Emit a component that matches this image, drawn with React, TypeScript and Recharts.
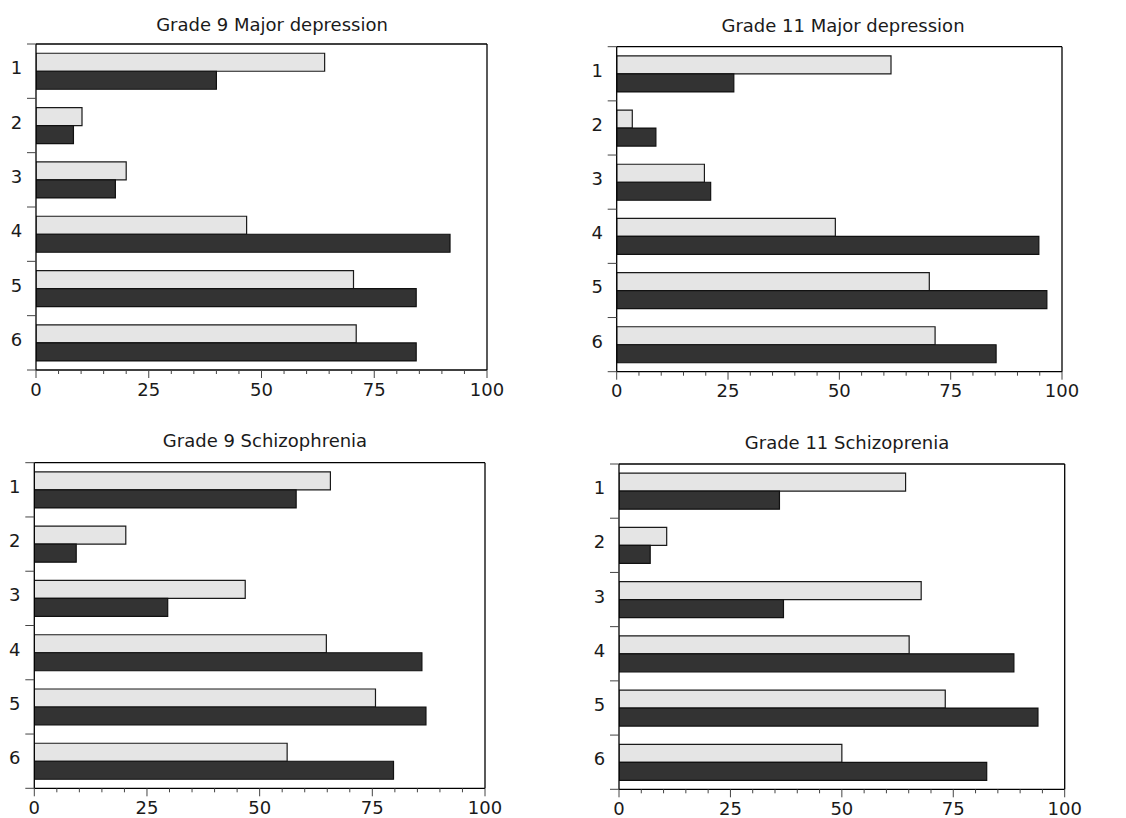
import React from 'react';
import { BarChart, Bar, XAxis, YAxis } from 'recharts';

const categories = ['1', '2', '3', '4', '5', '6'];
const xTicks = [0, 5, 10, 15, 20, 25, 30, 35, 40, 45, 50, 55, 60, 65, 70, 75, 80, 85, 90, 95, 100];
const xLabelTicks = [0, 25, 50, 75, 100];

const titles = [
  'Grade 9 Major depression',
  'Grade 11 Major depression',
  'Grade 9 Schizophrenia',
  'Grade 11 Schizoprenia',
];

const g9DepLight = [64, 10.2, 20, 46.7, 70.4, 71];
const g9DepDark = [40, 8.3, 17.6, 91.8, 84.3, 84.3];
const g11DepLight = [61.6, 3.5, 19.7, 49.1, 70.2, 71.5];
const g11DepDark = [26.3, 8.8, 21.1, 94.8, 96.6, 85.2];
const g9SchLight = [65.7, 20.3, 46.8, 64.8, 75.7, 56.1];
const g9SchDark = [58.1, 9.3, 29.6, 86.0, 86.9, 79.7];
const g11SchLight = [64.3, 10.7, 67.8, 65.1, 73.2, 50.0];
const g11SchDark = [36.0, 7.0, 36.9, 88.6, 94.0, 82.5];

const FONT = 'DejaVu Sans';
const W = 563;
const H = 408;
const Y_AXIS_W = 30;
const X_AXIS_H = 28;

type Box = { x0: number; y0: number; pl: number; pt: number; pr: number; pb: number; tx: number; ty: number };

const boxes: Box[] = [
  { x0: 0, y0: 0, pl: 36, pt: 44, pr: 487, pb: 370, tx: 272, ty: 30.7 },
  { x0: 563, y0: 0, pl: 616.7, pt: 46.7, pr: 1062, pb: 371.7, tx: 843, ty: 32.3 },
  { x0: 0, y0: 410, pl: 34.3, pt: 462.7, pr: 485, pb: 788.3, tx: 265, ty: 447.3 },
  { x0: 563, y0: 410, pl: 619, pt: 464, pr: 1064.7, pb: 789.3, tx: 847, ty: 449.3 },
];

const XTick = (props: any) => {
  const { x, y, payload } = props;
  const v = payload.value;
  const major = xLabelTicks.includes(v);
  return (
    <g>
      <line x1={x} y1={y} x2={x} y2={y + (major ? 8 : 4)} stroke="#444" strokeWidth={1} />
      {major && (
        <text x={x} y={y + 25.5} textAnchor="middle" fontFamily={FONT} fontSize={18} fill="#1a1a1a">
          {v}
        </text>
      )}
    </g>
  );
};

const YTick = (props: any) => {
  const { x, y, payload, band } = props;
  const half = payload && payload.offset ? payload.offset : band / 2;
  const isLast = payload.value === categories[categories.length - 1];
  return (
    <g>
      <line x1={x - 9} y1={y - half} x2={x} y2={y - half} stroke="#444" strokeWidth={1} />
      {isLast && <line x1={x - 9} y1={y + half} x2={x} y2={y + half} stroke="#444" strokeWidth={1} />}
      <text x={x - 19.5} y={y + 3} textAnchor="middle" fontFamily={FONT} fontSize={18} fill="#1a1a1a">
        {payload.value}
      </text>
    </g>
  );
};

function Panel({ title, light, dark, box }: { title: string; light: number[]; dark: number[]; box: Box }) {
  const data = categories.map((c, i) => ({ cat: c, light: light[i], dark: dark[i] }));
  const margin = {
    left: box.pl - box.x0 - Y_AXIS_W,
    top: box.pt - box.y0,
    right: box.x0 + W - box.pr,
    bottom: box.y0 + H - box.pb - X_AXIS_H,
  };
  const band = (box.pb - box.pt) / categories.length;
  return (
    <div style={{ position: 'absolute', left: box.x0, top: box.y0, width: W, height: H }}>
      <BarChart
        width={W}
        height={H}
        data={data}
        layout="vertical"
        margin={margin}
        barCategoryGap="17%"
        barGap={0}
      >
        <XAxis
          type="number"
          domain={[0, 100]}
          ticks={xTicks}
          interval={0}
          tickSize={0}
          tickMargin={0}
          tickLine={false}
          tick={(p: any) => <XTick {...p} />}
          height={X_AXIS_H}
          axisLine={{ stroke: '#000', strokeWidth: 1.3 }}
          allowDataOverflow
        />
        <YAxis
          type="category"
          dataKey="cat"
          width={Y_AXIS_W}
          interval={0}
          tickSize={0}
          tickMargin={0}
          tickLine={false}
          tick={(p: any) => <YTick {...p} band={band} />}
          axisLine={{ stroke: '#000', strokeWidth: 1.3 }}
        />
        <Bar dataKey="light" fill="#e5e5e5" stroke="#1a1a1a" strokeWidth={1.2} isAnimationActive={false} />
        <Bar dataKey="dark" fill="#333333" stroke="#111111" strokeWidth={1.2} isAnimationActive={false} />
      </BarChart>
      <svg
        width={W}
        height={H}
        style={{ position: 'absolute', left: 0, top: 0, pointerEvents: 'none', overflow: 'visible' }}
      >
        <line
          x1={box.pl - box.x0}
          y1={box.pt - box.y0}
          x2={box.pr - box.x0}
          y2={box.pt - box.y0}
          stroke="#000"
          strokeWidth={1.3}
        />
        <line
          x1={box.pr - box.x0}
          y1={box.pt - box.y0}
          x2={box.pr - box.x0}
          y2={box.pb - box.y0}
          stroke="#000"
          strokeWidth={1.3}
        />
        <text x={box.tx - box.x0} y={box.ty - box.y0} textAnchor="middle" fontFamily={FONT} fontSize={18} fill="#1a1a1a">
          {title}
        </text>
      </svg>
    </div>
  );
}

export default function App() {
  return (
    <div style={{ position: 'absolute', left: 0, top: 0, width: 1126, height: 818, background: '#fff' }}>
      <Panel title={titles[0]} light={g9DepLight} dark={g9DepDark} box={boxes[0]} />
      <Panel title={titles[1]} light={g11DepLight} dark={g11DepDark} box={boxes[1]} />
      <Panel title={titles[2]} light={g9SchLight} dark={g9SchDark} box={boxes[2]} />
      <Panel title={titles[3]} light={g11SchLight} dark={g11SchDark} box={boxes[3]} />
    </div>
  );
}
